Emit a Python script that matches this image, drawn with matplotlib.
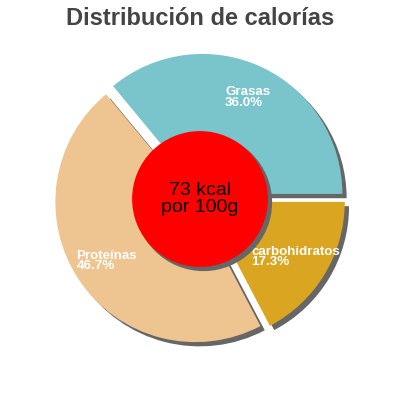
import numpy as np
import matplotlib
matplotlib.use("Agg")
import matplotlib.pyplot as plt
from matplotlib.patches import Circle, Shadow

plt.rcParams['font.family'] = ['Liberation Sans', 'DejaVu Sans']

labels = ["Grasas", "Proteínas", "carbohidratos"]
values = [36.0, 46.7, 17.3]
colors = ["#7ac4cc", "#eec591", "#daa520"]
title = "Distribución de calorías"
center_text = "73 kcal\npor 100g"

fig = plt.figure(figsize=(4, 4), dpi=100)
ax = fig.add_axes([0, 0, 1, 1])
R = 140.0
cy = 199.0

explode = [0.04, 0.04, 0.04]
wedges, _ = ax.pie(values, colors=colors, startangle=0, counterclock=True,
                   explode=explode, radius=1.0,
                   shadow={'ox': 0.022, 'oy': -0.022, 'facecolor': '#666666',
                           'edgecolor': '#666666', 'alpha': 1.0},
                   wedgeprops={'linewidth': 0})
ax.set_xlim(-200 / R, 200 / R)
ax.set_ylim(-(400 - cy) / R, cy / R)
ax.set_aspect('equal')
ax.axis('off')

total = sum(values)
start = 0.0
for lab, v in zip(labels, values):
    ang = np.deg2rad(start + 360 * v / total / 2)
    r = 0.80
    ax.text(r * np.cos(ang), r * np.sin(ang), f"{lab}\n{v:.1f}%",
            ha='center', va='center', multialignment='left',
            color='white', fontsize=9.6, fontweight='bold', linespacing=0.85)
    start += 360 * v / total

circ = Circle((0, 0), 0.485, facecolor='#ff0000', edgecolor='none', zorder=5)
sh = Shadow(circ, 0.018, -0.018, facecolor='#666666', edgecolor='#666666', alpha=1.0)
ax.add_patch(sh)
ax.add_patch(circ)
ax.text(0, 0.0, center_text, ha='center', va='center', fontsize=14,
        color='black', zorder=6, linespacing=1.0)

fig.text(0.5, 1 - 25 / 400, title, ha='center', va='baseline',
         fontsize=17, fontweight='bold', color='#444444')

fig.savefig("out.png", dpi=100)
